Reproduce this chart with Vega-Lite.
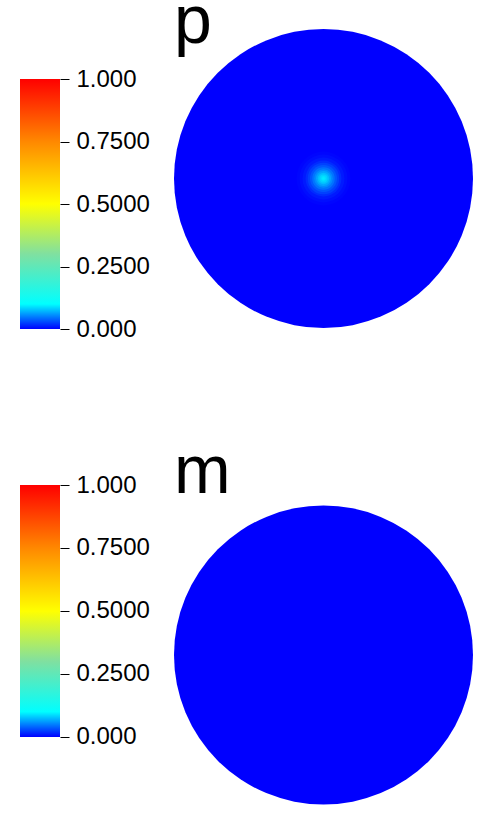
{
  "$schema": "https://vega.github.io/schema/vega-lite/v6.json",
  "padding": {"left": 20, "top": -11, "right": 0, "bottom": 0},
  "background": "white",
  "config": {"view": {"stroke": null}, "font": "Liberation Sans"},
  "datasets": {
    "colorbar": [{"lo": 0, "hi": 1}],
    "p": [
      {"x": 0, "y": 0, "r": 1, "value": 0},
      {"x": 0, "y": 0, "r": 0.18, "value": 0.002},
      {"x": 0, "y": 0, "r": 0.16, "value": 0.005},
      {"x": 0, "y": 0, "r": 0.14, "value": 0.01},
      {"x": 0, "y": 0, "r": 0.12, "value": 0.017},
      {"x": 0, "y": 0, "r": 0.105, "value": 0.025},
      {"x": 0, "y": 0, "r": 0.09, "value": 0.034},
      {"x": 0, "y": 0, "r": 0.075, "value": 0.045},
      {"x": 0, "y": 0, "r": 0.062, "value": 0.055},
      {"x": 0, "y": 0, "r": 0.05, "value": 0.065},
      {"x": 0, "y": 0, "r": 0.038, "value": 0.075},
      {"x": 0, "y": 0, "r": 0.027, "value": 0.083},
      {"x": 0, "y": 0, "r": 0.016, "value": 0.089},
      {"x": 0, "y": 0, "r": 0.008, "value": 0.093}
    ],
    "m": [
      {"x": 0, "y": 0, "r": 1, "value": 0}
    ]
  },
  "spacing": 456,
  "bounds": "flush",
  "vconcat": [
    {
      "spacing": 114,
      "bounds": "flush",
      "hconcat": [
        {
          "width": 40,
          "height": 300,
          "data": {"name": "colorbar"},
          "mark": {
            "type": "rect",
            "fill": {
              "gradient": "linear", "x1": 0, "y1": 1, "x2": 0, "y2": 0,
              "stops": [
                {"offset": 0, "color": "#0000ff"},
                {"offset": 0.1, "color": "#00ffff"},
                {"offset": 0.3, "color": "#80e0a0"},
                {"offset": 0.5, "color": "#ffff00"},
                {"offset": 0.75, "color": "#ff8800"},
                {"offset": 1, "color": "#ff0000"}
              ]
            }
          },
          "encoding": {
            "y": {
              "field": "lo", "type": "quantitative",
              "scale": {"domain": [0, 1.2], "nice": false, "zero": false},
              "axis": {
                "orient": "right", "values": [0, 0.25, 0.5, 0.75, 1],
                "labelExpr": "datum.value == 0 ? '0.000' : datum.value == 1 ? '1.000' : format(datum.value, '.4f')",
                "domain": false, "grid": false, "ticks": true, "tickSize": 9, "tickColor": "#000000", "tickWidth": 1,
                "labelFontSize": 24, "labelColor": "#000000", "labelPadding": 7, "title": null,
                "labelFont": "Liberation Sans", "labelFlush": false, "labelOverlap": false, "labelBound": false
              }
            },
            "y2": {"field": "hi"}
          }
        },
        {
          "width": 299,
          "height": 299,
          "title": {"text": "p", "fontSize": 68, "anchor": "start", "offset": -28, "font": "Liberation Sans", "fontWeight": "normal", "color": "#000000"},
          "data": {"name": "p"},
          "mark": {"type": "point", "shape": "circle", "filled": true, "opacity": 1, "strokeWidth": 0},
          "encoding": {
            "x": {"field": "x", "type": "quantitative", "scale": {"domain": [-1, 1], "nice": false, "zero": false}, "axis": null},
            "y": {"field": "y", "type": "quantitative", "scale": {"domain": [-1, 1], "nice": false, "zero": false}, "axis": null},
            "size": {"field": "r", "type": "quantitative", "scale": {"type": "pow", "exponent": 2, "domain": [0, 1], "range": [0, 89401]}, "legend": null},
            "color": {"field": "value", "type": "quantitative", "scale": {"type": "linear", "interpolate": "rgb", "domain": [0, 0.1, 0.3, 0.5, 0.75, 1], "range": ["#0000ff", "#00ffff", "#80e0a0", "#ffff00", "#ff8800", "#ff0000"]}, "legend": null}
          }
        }
      ]
    },
    {
      "spacing": 114,
      "bounds": "flush",
      "hconcat": [
        {
          "width": 40,
          "height": 320,
          "data": {"name": "colorbar"},
          "mark": {
            "type": "rect",
            "fill": {
              "gradient": "linear", "x1": 0, "y1": 1, "x2": 0, "y2": 0,
              "stops": [
                {"offset": 0, "color": "#0000ff"},
                {"offset": 0.1, "color": "#00ffff"},
                {"offset": 0.3, "color": "#80e0a0"},
                {"offset": 0.5, "color": "#ffff00"},
                {"offset": 0.75, "color": "#ff8800"},
                {"offset": 1, "color": "#ff0000"}
              ]
            }
          },
          "encoding": {
            "y": {
              "field": "lo", "type": "quantitative",
              "scale": {"domain": [-0.27, 1], "nice": false, "zero": false},
              "axis": {
                "orient": "right", "values": [0, 0.25, 0.5, 0.75, 1],
                "labelExpr": "datum.value == 0 ? '0.000' : datum.value == 1 ? '1.000' : format(datum.value, '.4f')",
                "domain": false, "grid": false, "ticks": true, "tickSize": 9, "tickColor": "#000000", "tickWidth": 1,
                "labelFontSize": 24, "labelColor": "#000000", "labelPadding": 7, "title": null,
                "labelFont": "Liberation Sans", "labelFlush": false, "labelOverlap": false, "labelBound": false
              }
            },
            "y2": {"field": "hi"}
          }
        },
        {
          "width": 299,
          "height": 320,
          "title": {"text": "m", "fontSize": 68, "anchor": "start", "offset": -22, "font": "Liberation Sans", "fontWeight": "normal", "color": "#000000"},
          "data": {"name": "m"},
          "mark": {"type": "point", "shape": "circle", "filled": true, "opacity": 1, "strokeWidth": 0},
          "encoding": {
            "x": {"field": "x", "type": "quantitative", "scale": {"domain": [-1, 1], "nice": false, "zero": false}, "axis": null},
            "y": {"field": "y", "type": "quantitative", "scale": {"domain": [-1, 1.1333], "nice": false, "zero": false}, "axis": null},
            "size": {"field": "r", "type": "quantitative", "scale": {"type": "pow", "exponent": 2, "domain": [0, 1], "range": [0, 89401]}, "legend": null},
            "color": {"field": "value", "type": "quantitative", "scale": {"type": "linear", "interpolate": "rgb", "domain": [0, 0.1, 0.3, 0.5, 0.75, 1], "range": ["#0000ff", "#00ffff", "#80e0a0", "#ffff00", "#ff8800", "#ff0000"]}, "legend": null}
          }
        }
      ]
    }
  ]
}
